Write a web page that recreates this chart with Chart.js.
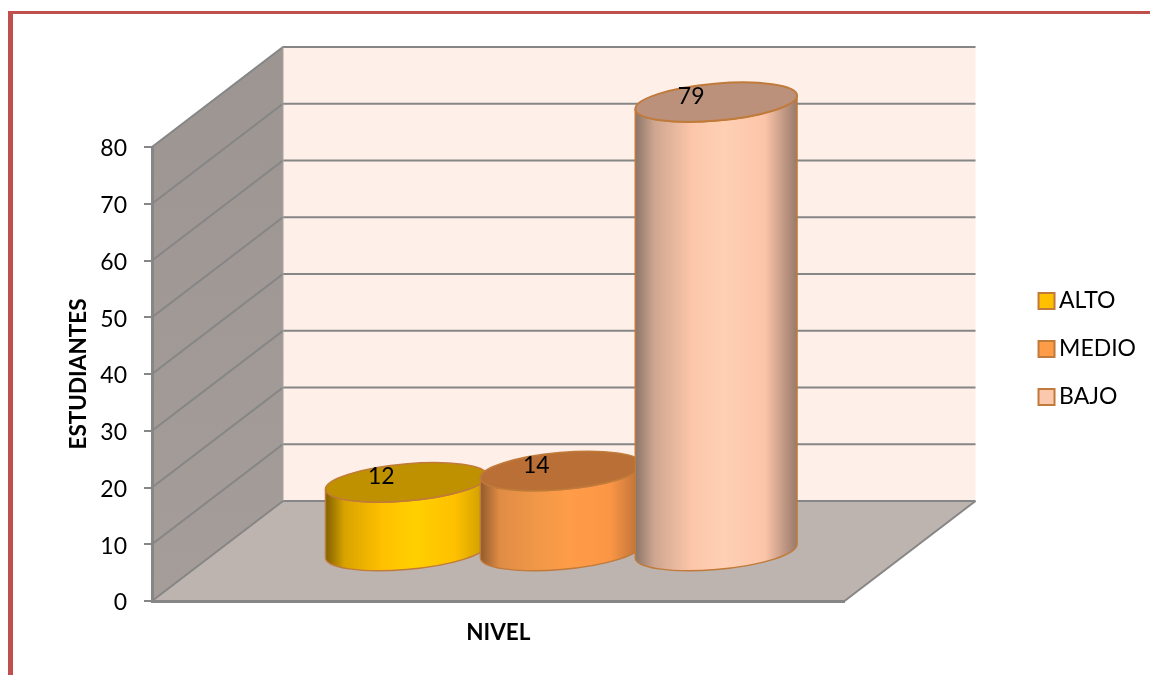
<!DOCTYPE html>
<html>
<head>
<meta charset="utf-8">
<title>Nivel</title>
<script src="https://cdn.jsdelivr.net/npm/chart.js@4/dist/chart.umd.min.js"></script>
<style>
html, body { margin: 0; padding: 0; background: #fff; overflow: hidden; }
#frame { position: absolute; left: 8px; top: 11px; right: 0; bottom: 0; border-left: 5px solid #c0504d; border-top: 3px solid #c0504d; }
#nivelChart { position: absolute; left: 0; top: 0; }
</style>
</head>
<body>
<div id="frame"></div>
<canvas id="nivelChart" width="1150" height="675"></canvas>
<script>
var seriesNames = ['ALTO', 'MEDIO', 'BAJO'];
var seriesValues = [12, 14, 79];
var legendColors = ['#ffc000', '#ff9c48', '#fcc8ad'];
var topColors = ['#bf9000', '#b96f35', '#bb917b'];
var sideColors = [
    ['#7f5f00', '#d9a300', '#ffc000', '#ffd000', '#ffc000', '#c89a00'],
    ['#8f5a2c', '#e08c45', '#f09848', '#ff9c48', '#fb9646', '#b56e38'],
    ['#8a7468', '#cfa690', '#fcc6aa', '#ffd0b4', '#fcc5a8', '#98796a']
];
var sideStops = [0, 0.12, 0.35, 0.55, 0.8, 1];
var yMax = 80;
var yStep = 10;

var wallDx = 131, wallDy = -100;
var barDx = 63, barDy = -49;
var edgeColor = '#c07a3a';
var gridColor = '#868686';
var tilt = -5 * Math.PI / 180;

function poly(ctx, pts, fill) {
    ctx.beginPath();
    ctx.moveTo(pts[0][0], pts[0][1]);
    for (var i = 1; i < pts.length; i++) ctx.lineTo(pts[i][0], pts[i][1]);
    ctx.closePath();
    ctx.fillStyle = fill;
    ctx.fill();
}

var walls = {
    id: 'walls',
    beforeDraw: function (chart) {
        var ctx = chart.ctx, y = chart.scales.y, a = chart.chartArea;
        var l = a.left, r = a.right, t = y.getPixelForValue(yMax), b = y.getPixelForValue(0);
        ctx.save();
        poly(ctx, [[l + wallDx, t + wallDy], [r + wallDx, t + wallDy], [r + wallDx, b + wallDy], [l + wallDx, b + wallDy]], '#feefe8');
        var side = ctx.createLinearGradient(0, t + wallDy, 0, b);
        side.addColorStop(0, '#9c9591');
        side.addColorStop(1, '#a59d99');
        poly(ctx, [[l, t], [l + wallDx, t + wallDy], [l + wallDx, b + wallDy], [l, b]], side);
        poly(ctx, [[l, b], [l + wallDx, b + wallDy], [r + wallDx, b + wallDy], [r, b]], '#bdb3af');

        ctx.strokeStyle = gridColor;
        ctx.lineWidth = 2;
        y.ticks.forEach(function (tick) {
            var py = y.getPixelForValue(tick.value);
            ctx.beginPath();
            ctx.moveTo(l, py);
            ctx.lineTo(l + wallDx, py + wallDy);
            ctx.lineTo(r + wallDx, py + wallDy);
            ctx.stroke();
        });
        // floor front-right edge
        ctx.beginPath();
        ctx.moveTo(r, b);
        ctx.lineTo(r + wallDx, b + wallDy);
        ctx.stroke();
        // corner where the two walls meet
        ctx.strokeStyle = '#a8a4a0';
        ctx.lineWidth = 1;
        ctx.beginPath();
        ctx.moveTo(l + wallDx, t + wallDy);
        ctx.lineTo(l + wallDx, b + wallDy);
        ctx.stroke();
        ctx.restore();
    }
};

var cylinders = {
    id: 'cylinders',
    beforeDatasetDraw: function () {
        return false;
    },
    afterDatasetsDraw: function (chart) {
        var ctx = chart.ctx;
        chart.data.datasets.forEach(function (ds, i) {
            var bar = chart.getDatasetMeta(i).data[0];
            var cx = bar.x + barDx;
            var topY = bar.y + barDy - 1.5, baseY = bar.base + barDy;
            var rx = bar.width * 0.524, ry = 18.5;
            var t0 = Math.atan(-(ry / rx) * Math.tan(tilt));

            ctx.save();
            var grad = ctx.createLinearGradient(cx - rx, 0, cx + rx, 0);
            sideStops.forEach(function (s, k) { grad.addColorStop(s, sideColors[i][k]); });
            ctx.beginPath();
            ctx.ellipse(cx, baseY, rx, ry, tilt, t0, t0 + Math.PI);
            ctx.ellipse(cx, topY, rx, ry, tilt, t0 + Math.PI, t0, true);
            ctx.closePath();
            ctx.fillStyle = grad;
            ctx.fill();
            ctx.strokeStyle = edgeColor;
            ctx.lineWidth = 1.5;
            ctx.stroke();

            ctx.beginPath();
            ctx.ellipse(cx, topY, rx, ry, tilt, 0, Math.PI * 2);
            ctx.fillStyle = topColors[i];
            ctx.fill();
            ctx.lineWidth = i === 2 ? 2 : 1.5;
            ctx.stroke();

            ctx.fillStyle = '#000';
            ctx.font = '23px Lato';
            ctx.textAlign = 'center';
            ctx.textBaseline = 'middle';
            ctx.fillText(String(seriesValues[i]), cx - 25, topY - 5.5);
            ctx.restore();
        });
    },
    // the legend's gap to the text follows the font size, so the swatch is drawn over a narrower box
    afterDraw: function (chart) {
        var ctx = chart.ctx;
        chart.legend.legendHitBoxes.forEach(function (hit, i) {
            var top = hit.top + hit.height / 2 - 8;
            ctx.save();
            ctx.fillStyle = legendColors[i];
            ctx.strokeStyle = edgeColor;
            ctx.lineWidth = 2;
            ctx.fillRect(hit.left, top, 16, 16);
            ctx.strokeRect(hit.left, top, 16, 16);
            ctx.restore();
        });
    }
};

function hiddenAxis(extra) {
    return Object.assign({
        type: 'linear',
        grid: { display: false },
        border: { display: false },
        ticks: { display: false }
    }, extra);
}

new Chart(document.getElementById('nivelChart').getContext('2d'), {
    type: 'bar',
    data: {
        labels: [''],
        datasets: seriesNames.map(function (name, i) {
            return {
                label: name,
                data: [seriesValues[i]],
                backgroundColor: legendColors[i],
                borderColor: edgeColor,
                borderWidth: 0,
                barPercentage: 1,
                categoryPercentage: 0.671
            };
        })
    },
    plugins: [walls, cylinders],
    options: {
        responsive: false,
        animation: false,
        layout: { padding: { top: 23, right: 4, bottom: 0, left: 0 } },
        scales: {
            x: {
                grid: { display: false },
                border: { color: gridColor, width: 3 },
                ticks: { display: false },
                title: {
                    display: true,
                    text: 'NIVEL',
                    color: '#000',
                    font: { family: 'Lato', size: 22.5, weight: 'bold' },
                    padding: { top: 0, bottom: 29 }
                },
                afterFit: function (s) { s.height = 74; }
            },
            y: {
                min: 0,
                max: yMax,
                ticks: {
                    stepSize: yStep,
                    color: '#000',
                    padding: 17,
                    labelOffset: 2,
                    font: { family: 'Lato', size: 23 }
                },
                grid: { drawOnChartArea: false, color: gridColor, lineWidth: 2, tickLength: 8 },
                border: { color: gridColor, width: 3 },
                title: {
                    display: true,
                    text: 'ESTUDIANTES',
                    color: '#000',
                    font: { family: 'Lato', size: 22.5, weight: 'bold' },
                    padding: { top: 65, bottom: 0 }
                },
                afterFit: function (s) { s.width = 152; }
            },
            spacerTop: hiddenAxis({ axis: 'x', position: 'top', afterFit: function (s) { s.height = 124; } }),
            spacerRight: hiddenAxis({ axis: 'y', position: 'right', afterFit: function (s) { s.width = 169; } })
        },
        plugins: {
            tooltip: { enabled: false },
            title: { display: false },
            legend: {
                position: 'right',
                labels: {
                    color: '#000',
                    boxWidth: 9,
                    boxHeight: 16,
                    padding: 25,
                    font: { family: 'Lato', size: 23 }
                }
            }
        }
    }
});
</script>
</body>
</html>
